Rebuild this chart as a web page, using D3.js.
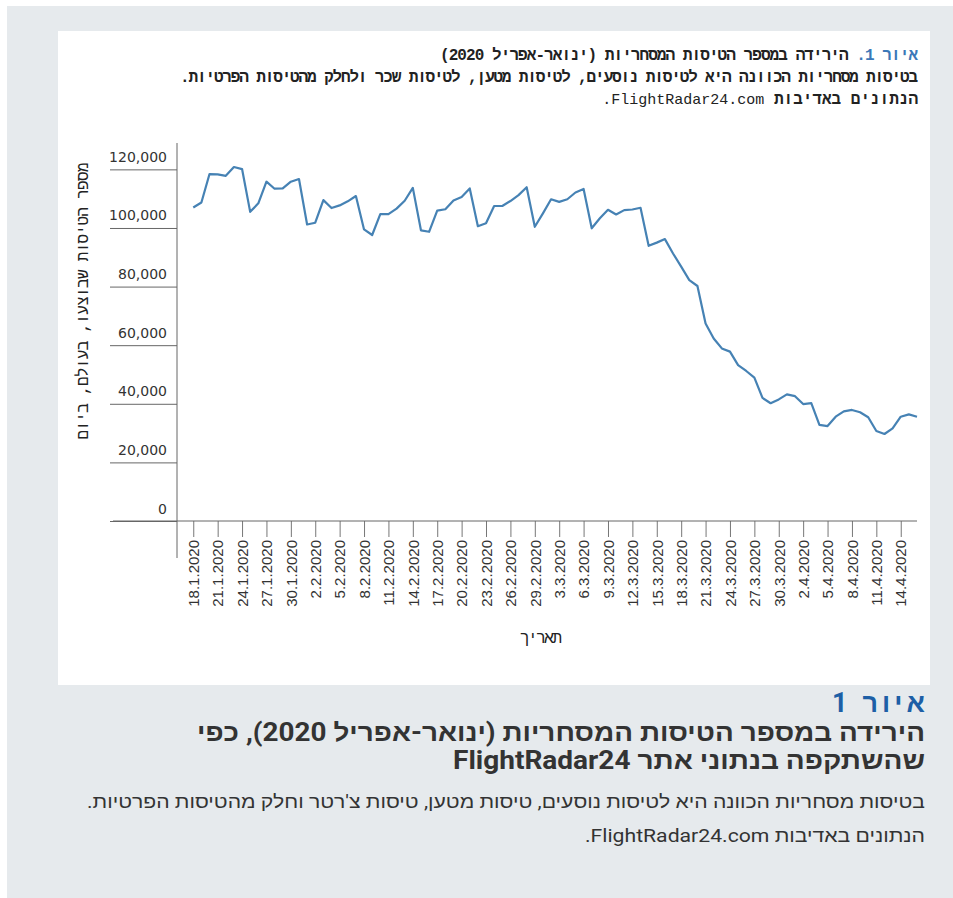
<!DOCTYPE html>
<html>
<head>
<meta charset="utf-8">
<script src="https://cdn.jsdelivr.net/npm/d3@7"></script>
<style>
  body { margin: 0; background: #fff; }
  svg { display: block; }
</style>
</head>
<body>
<svg id="chart" width="953" height="898"></svg>
<script>
// daily commercial flights, 18.1.2020 - 16.4.2020
var startDate = '2020-01-18'
var flights = [
  107000, 108700, 118400, 118300, 117800, 120800, 120100, 105500, 108400, 115800,
  113400, 113500, 115800, 116700, 101200, 101800, 109500, 106800, 107700, 109100,
  110900, 99500, 97600, 104700, 104700, 106600, 109300, 113700, 99200, 98700,
  105900, 106400, 109400, 110600, 113500, 100600, 101600, 107500, 107500, 109200,
  111200, 113900, 100400, 105000, 109800, 108900, 109800, 112100, 113300, 99900,
  103300, 106200, 104600, 106100, 106300, 106900, 93900, 95000, 96200, 91300,
  86800, 82200, 80200, 67400, 62300, 58900, 57800, 53200, 51200, 48900,
  42000, 40200, 41500, 43200, 42600, 39900, 40200, 32800, 32400, 35600,
  37400, 37900, 37100, 35400, 30700, 29700, 31600, 35600, 36400, 35600
]
var xTickLabels = [
  '18.1.2020', '21.1.2020', '24.1.2020', '27.1.2020', '30.1.2020', '2.2.2020',
  '5.2.2020', '8.2.2020', '11.2.2020', '14.2.2020', '17.2.2020', '20.2.2020',
  '23.2.2020', '26.2.2020', '29.2.2020', '3.3.2020', '6.3.2020', '9.3.2020',
  '12.3.2020', '15.3.2020', '18.3.2020', '21.3.2020', '24.3.2020', '27.3.2020',
  '30.3.2020', '2.4.2020', '5.4.2020', '8.4.2020', '11.4.2020', '14.4.2020'
]
var yTicks = [0, 20000, 40000, 60000, 80000, 100000, 120000]
var headerTitle = ['איור 1.', ' הירידה במספר הטיסות המסחריות (ינואר-אפריל 2020)']
var headerNote = 'בטיסות מסחריות הכוונה היא לטיסות נוסעים, לטיסות מטען, לטיסות שכר ולחלק מהטיסות הפרטיות.'
var headerSource = ['הנתונים באדיבות ', 'FlightRadar24.com.']
var captionTitle = [
  'הירידה במספר הטיסות המסחריות (ינואר-אפריל 2020), כפי',
  'שהשתקפה בנתוני אתר FlightRadar24'
]
var captionBody = [
  'בטיסות מסחריות הכוונה היא לטיסות נוסעים, טיסות מטען, טיסות צ\'רטר וחלק מהטיסות הפרטיות.',
  'הנתונים באדיבות FlightRadar24.com.'
]

var parseDay = d3.timeParse('%Y-%m-%d')
var parseLabel = d3.timeParse('%d.%m.%Y')
var start = parseDay(startDate)
var data = flights.map(function (v, i) {
  return { date: d3.timeDay.offset(start, i), value: v }
})
var tickDates = xTickLabels.map(parseLabel)

var svg = d3.select('#chart')
var mono = "'Liberation Mono', 'DejaVu Sans Mono', monospace"
var sans = "Roboto, 'Liberation Sans', 'DejaVu Sans', sans-serif"

// backgrounds
svg.append('rect').attr('x', 7).attr('y', 6).attr('width', 946).attr('height', 892).attr('fill', '#e6eaed')
svg.append('rect').attr('x', 58).attr('y', 31).attr('width', 872).attr('height', 654).attr('fill', '#fff')

// header inside the panel
function rtlText(x, y, len) {
  var t = svg.append('text')
    .attr('x', x).attr('y', y)
    .attr('direction', 'rtl').attr('text-anchor', 'start')
    .attr('fill', '#222')
    .style('font-family', mono).style('font-size', '16px').style('font-weight', 'bold')
  if (len) t.attr('textLength', len).attr('lengthAdjust', 'spacing')
  return t
}
var h1 = rtlText(918, 60, 478)
h1.append('tspan').attr('fill', '#3b78b8').text(headerTitle[0])
h1.append('tspan').text(headerTitle[1])
rtlText(918, 82, 738).text(headerNote)
var h3 = rtlText(918, 104)
h3.append('tspan').text(headerSource[0])
h3.append('tspan').style('font-weight', 'normal').style('font-size', '15px').text(headerSource[1])

// scales
var x = d3.scaleTime()
  .domain([parseDay('2020-01-16'), parseDay('2020-04-16')])
  .range([177, 917])
var y = d3.scaleLinear()
  .domain([0, 129000])
  .range([521, 143])

// y axis
var yAxis = svg.append('g')
  .attr('transform', 'translate(177,0)')
  .call(d3.axisLeft(y).tickValues(yTicks).tickSize(67).tickFormat(d3.format(',')))
yAxis.select('.domain').remove()
yAxis.selectAll('line').attr('stroke', '#666')
yAxis.selectAll('text')
  .attr('x', -10).attr('y', -8).attr('dy', 0)
  .attr('fill', '#333')
  .style('font-family', "'DejaVu Sans', sans-serif").style('font-size', '14px')

// x axis
var xAxis = svg.append('g')
  .attr('transform', 'translate(0,521)')
  .call(d3.axisBottom(x).tickValues(tickDates).tickSize(16).tickFormat((d, i) => xTickLabels[i]))
xAxis.select('.domain').remove()
xAxis.selectAll('line').attr('stroke', '#777')
xAxis.selectAll('text')
  .attr('transform', 'rotate(-90)')
  .attr('x', -19).attr('y', 0).attr('dy', '0.35em')
  .style('text-anchor', 'end')
  .attr('fill', '#333')
  .style('font-family', "'Liberation Sans', Arial, sans-serif").style('font-size', '15px')

// axis lines
svg.append('line').attr('x1', 113).attr('x2', 917).attr('y1', 521).attr('y2', 521).attr('stroke', '#666')
svg.append('line').attr('x1', 177).attr('x2', 177).attr('y1', 143).attr('y2', 558).attr('stroke', '#666')

// axis titles
svg.append('text')
  .attr('transform', 'translate(88,301) rotate(-90)')
  .attr('direction', 'rtl').attr('text-anchor', 'middle')
  .attr('textLength', 277).attr('lengthAdjust', 'spacing')
  .attr('fill', '#222')
  .style('font-family', mono).style('font-size', '16px')
  .text('מספר הטיסות שבוצעו, בעולם, ביום')
svg.append('text')
  .attr('x', 541).attr('y', 643)
  .attr('direction', 'rtl').attr('text-anchor', 'middle')
  .attr('textLength', 42).attr('lengthAdjust', 'spacing')
  .attr('fill', '#222')
  .style('font-family', mono).style('font-size', '16px')
  .text('תאריך')

// line
var line = d3.line()
  .x(d => x(d.date))
  .y(d => y(d.value))
svg.append('path')
  .datum(data)
  .attr('fill', 'none')
  .attr('stroke', '#4682b4')
  .attr('stroke-width', 2.2)
  .attr('stroke-linejoin', 'round')
  .attr('d', line)

// caption below the panel
svg.append('text')
  .attr('x', 925).attr('y', 712)
  .attr('direction', 'rtl').attr('text-anchor', 'start')
  .attr('textLength', 93).attr('lengthAdjust', 'spacing')
  .attr('fill', '#1d5fa6')
  .style('font-family', sans).style('font-size', '27px').style('font-weight', 'bold')
  .text('איור 1')
var titleLen = [728, 472]
svg.append('g').selectAll('text')
  .data(captionTitle)
  .enter()
  .append('text')
  .attr('x', 925)
  .attr('y', (d, i) => 741 + i * 28)
  .attr('direction', 'rtl').attr('text-anchor', 'start')
  .attr('textLength', (d, i) => titleLen[i]).attr('lengthAdjust', 'spacingAndGlyphs')
  .attr('fill', '#333')
  .style('font-family', sans).style('font-size', '25px').style('font-weight', 'bold')
  .text(d => d)
var bodyLen = [838, 340]
svg.append('g').selectAll('text')
  .data(captionBody)
  .enter()
  .append('text')
  .attr('x', 925)
  .attr('y', (d, i) => 808 + i * 34)
  .attr('direction', 'rtl').attr('text-anchor', 'start')
  .attr('textLength', (d, i) => bodyLen[i]).attr('lengthAdjust', 'spacingAndGlyphs')
  .attr('fill', '#333')
  .style('font-family', sans).style('font-size', '18px')
  .text(d => d)
</script>
</body>
</html>
